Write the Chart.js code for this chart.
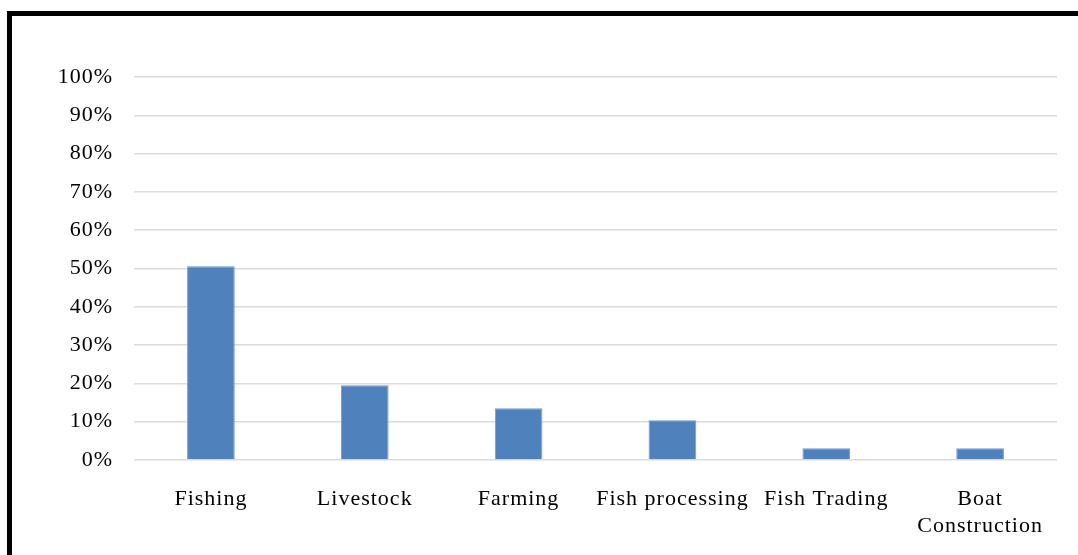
<!DOCTYPE html>
<html>
<head>
<meta charset="utf-8">
<script src="https://cdn.jsdelivr.net/npm/chart.js@4/dist/chart.umd.min.js"></script>
<style>
  html, body { margin: 0; padding: 0; background: #ffffff; overflow: hidden; }
  #wrap { position: relative; width: 1078px; height: 555px; }
  #frame {
    position: absolute; left: 7px; top: 11px; width: 1090px; height: 570px;
    border: 5px solid #000; box-sizing: border-box;
  }
  canvas { position: absolute; left: 0; top: 0; }
</style>
</head>
<body>
<div id="wrap">
  <div id="frame"></div>
  <canvas id="c" width="1078" height="555"></canvas>
</div>
<script>
// Share of households by livelihood activity
const categories = ['Fishing', 'Livestock', 'Farming', 'Fish processing', 'Fish Trading', ['Boat', 'Construction']];
const shares = [50.6, 19.5, 13.5, 10.4, 3.1, 3.1];
const tickValues = [0, 10, 20, 30, 40, 50, 60, 70, 80, 90, 100];

const serif = "'Liberation Serif', 'DejaVu Serif', serif";

// Slightly widened glyph spacing for the axis text
const spacing = {
  id: 'spacing',
  beforeDraw(chart) { chart.ctx.letterSpacing = '1px'; },
  afterDraw(chart) { chart.ctx.letterSpacing = '0px'; }
};

new Chart(document.getElementById('c'), {
  type: 'bar',
  data: {
    labels: categories,
    datasets: [{
      data: shares,
      backgroundColor: '#4f81bd',
      borderColor: '#7299cc',
      borderWidth: 1,
      barPercentage: 0.31,
      categoryPercentage: 1
    }]
  },
  plugins: [spacing],
  options: {
    responsive: false,
    animation: false,
    devicePixelRatio: 1,
    layout: { padding: { left: 0, top: 77, right: 21, bottom: 0 } },
    plugins: { legend: { display: false }, tooltip: { enabled: false } },
    scales: {
      x: {
        grid: { display: false, drawTicks: false },
        border: { display: false },
        ticks: {
          color: '#000',
          font: { family: serif, size: 22, lineHeight: 1.25 },
          padding: 25,
          maxRotation: 0,
          autoSkip: false
        },
        afterFit(scale) { scale.height = 95; }
      },
      y: {
        min: 0,
        max: 100,
        afterBuildTicks(scale) { scale.ticks = tickValues.map(v => ({ value: v })); },
        grid: { color: '#dcdcdc', lineWidth: 1.5, drawTicks: false },
        border: { display: false },
        ticks: {
          color: '#000',
          font: { family: serif, size: 22 },
          padding: 21,
          callback: v => v + '%'
        },
        afterFit(scale) { scale.width = 134; }
      }
    }
  }
});
</script>
</body>
</html>
